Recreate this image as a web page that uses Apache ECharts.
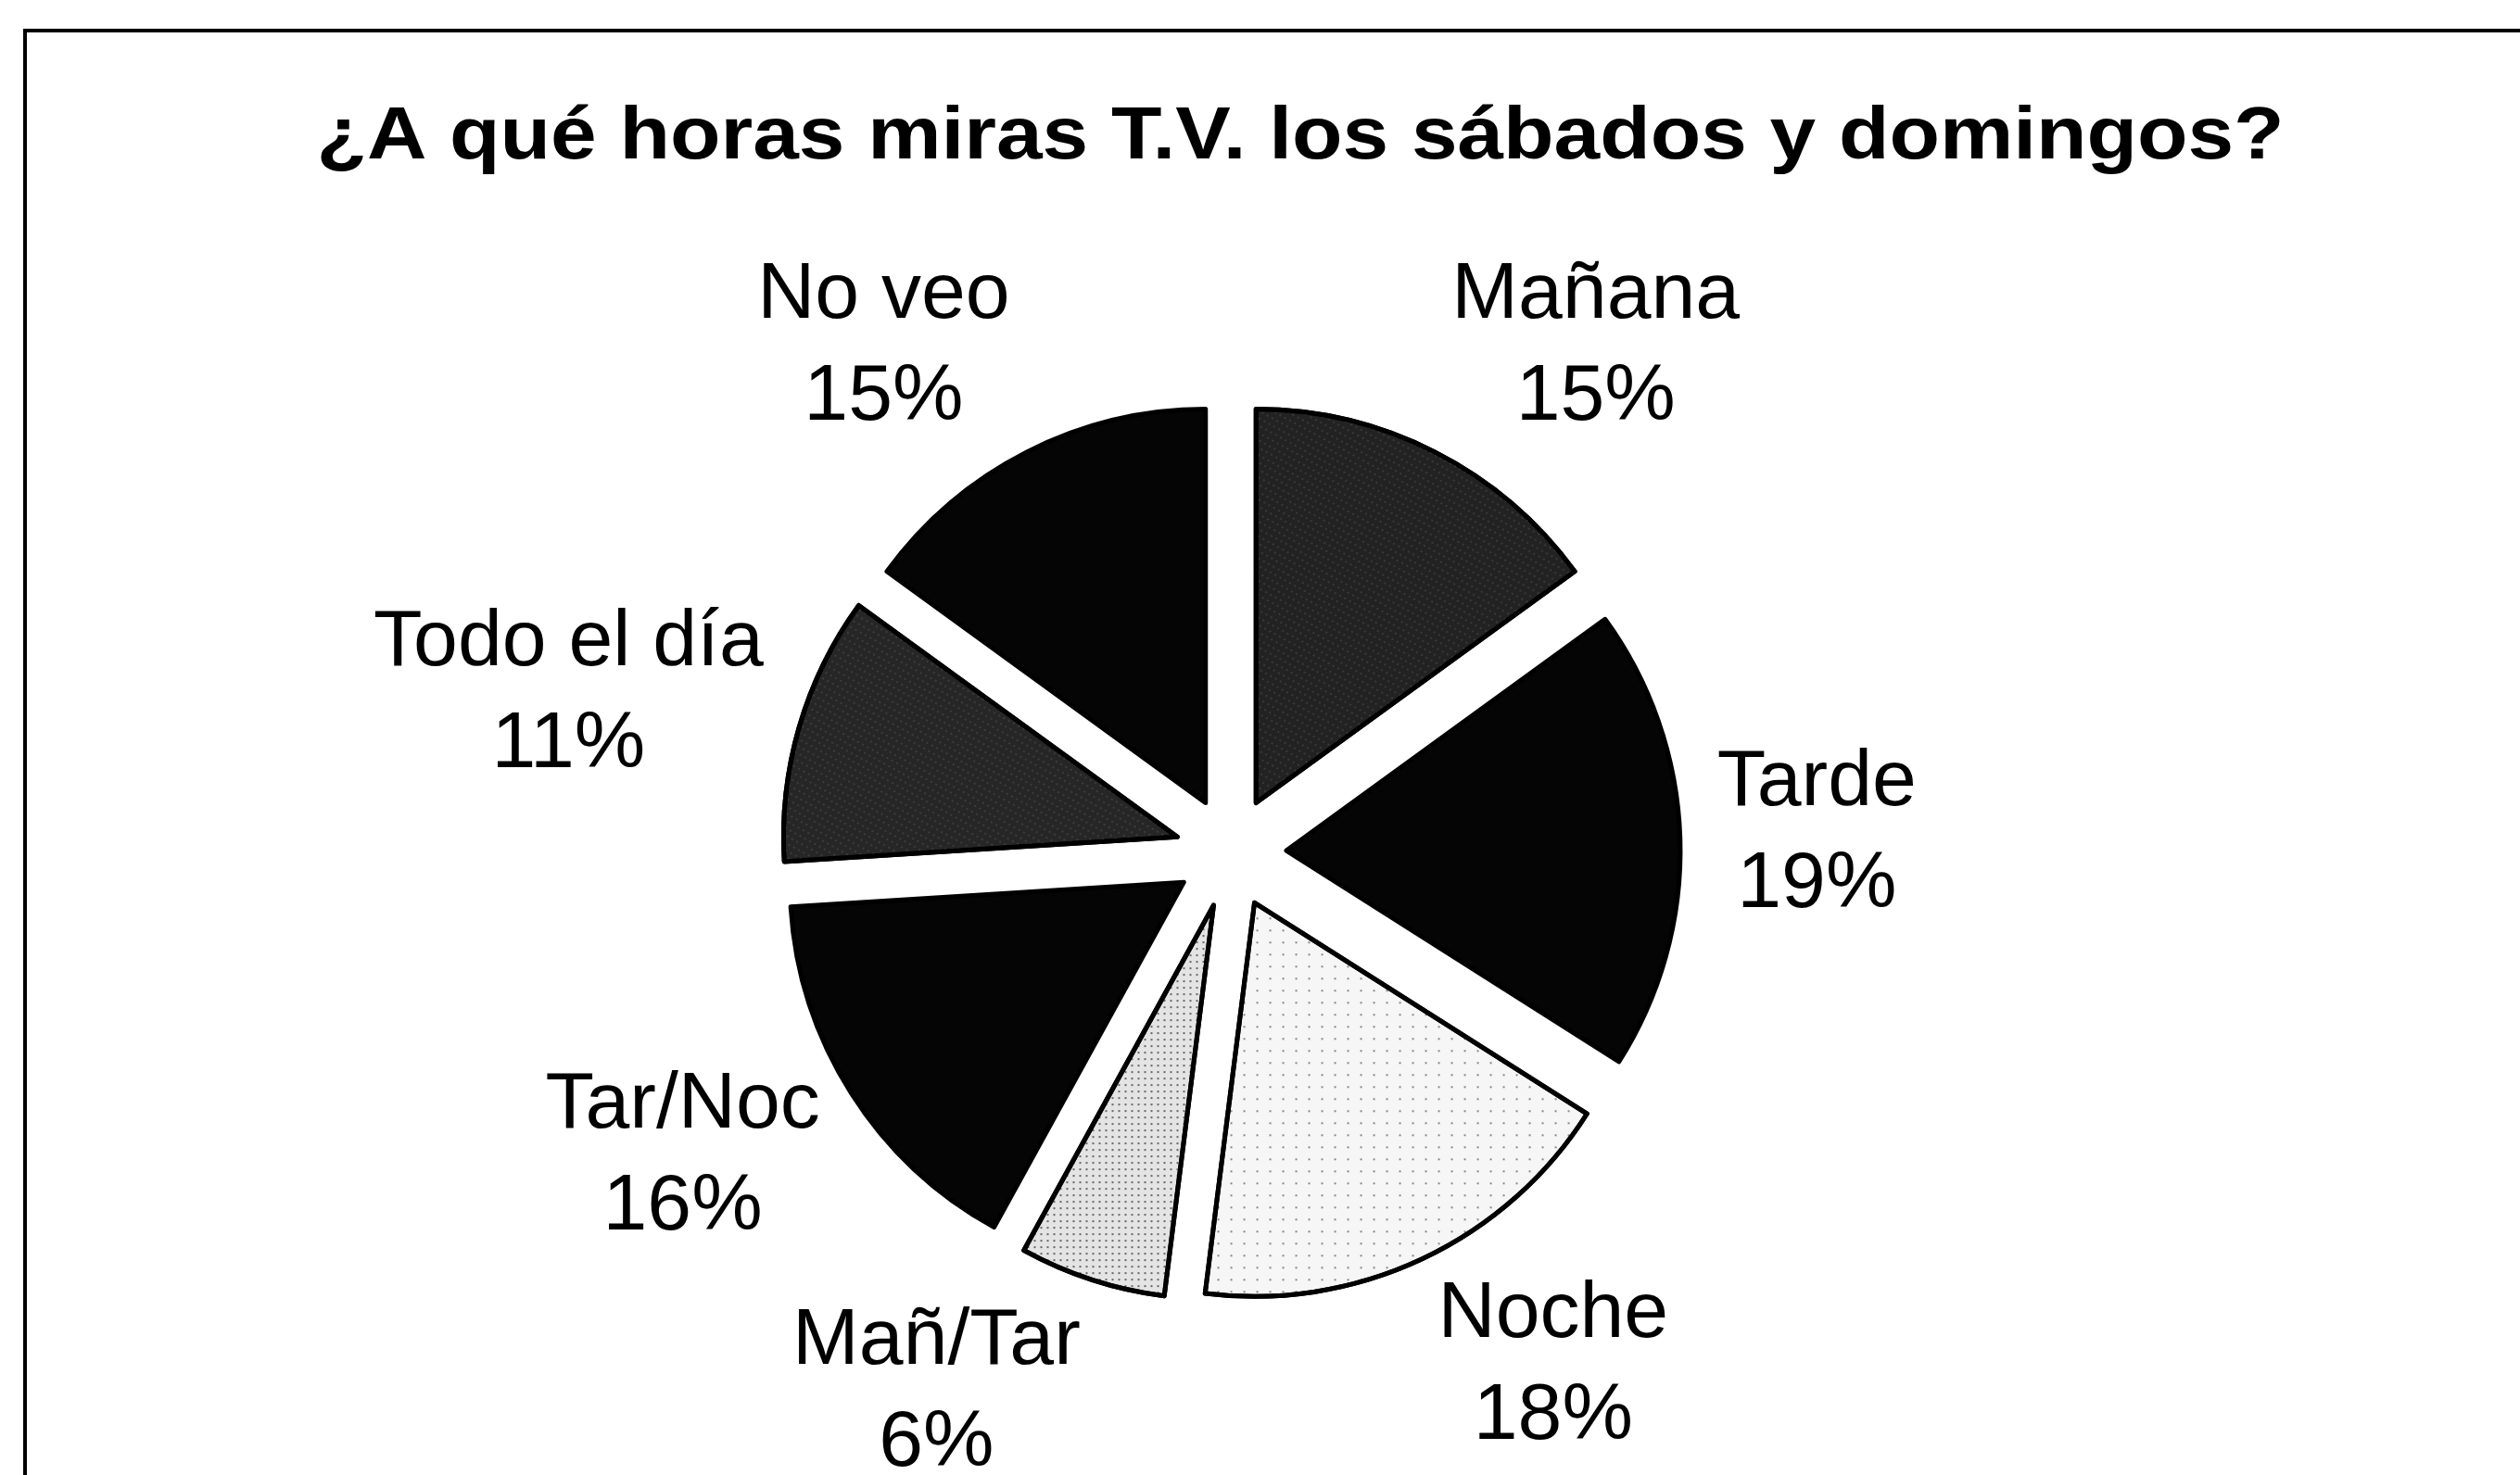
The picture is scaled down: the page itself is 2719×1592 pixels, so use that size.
<!DOCTYPE html>
<html>
<head>
<meta charset="utf-8">
<title>¿A qué horas miras T.V. los sábados y domingos?</title>
<script src="https://cdn.jsdelivr.net/npm/echarts@6/dist/echarts.min.js"></script>
<style>
  html, body { margin: 0; padding: 0; background: #fff; }
  #chart { width: 2719px; height: 1592px; }
</style>
</head>
<body>
<div id="chart"></div>
<script>
// datos del gráfico
const titleText = '¿A qué horas miras T.V. los sábados y domingos?';
const categories = ['Mañana', 'Tarde', 'Noche', 'Mañ/Tar', 'Tar/Noc', 'Todo el día', 'No veo'];
const values = [15, 19, 18, 6, 16, 11, 15];

// tramas de cada porción (escaneo en blanco y negro)
const sliceStyles = [
    { color: '#222222', decal: { symbol: 'rect', symbolSize: 0.6, color: 'rgba(255,255,255,0.35)', dashArrayX: [2, 4], dashArrayY: [2, 5], rotation: 0.5 } },
    { color: '#050505' },
    { color: '#f6f6f6', decal: { symbol: 'rect', symbolSize: 1, color: 'rgba(0,0,0,0.45)', dashArrayX: [2, 12], dashArrayY: [2, 11] } },
    { color: '#e4e4e4', decal: { symbol: 'rect', symbolSize: 1, color: 'rgba(0,0,0,0.55)', dashArrayX: [2, 5], dashArrayY: [2, 5] } },
    { color: '#050505' },
    { color: '#262626', decal: { symbol: 'rect', symbolSize: 0.6, color: 'rgba(255,255,255,0.35)', dashArrayX: [2, 4], dashArrayY: [2, 5], rotation: 0.5 } },
    { color: '#050505' }
];

const CX = 1328, CY = 920, R = 425, OFFSET = 60, GAP = 40;
const FONT = '"Liberation Sans", Arial, sans-serif';

const chart = echarts.init(document.getElementById('chart'), null, { renderer: 'canvas' });

const total = values.reduce((a, b) => a + b, 0);

// etiqueta centrada fuera de la porción (como Excel): se calcula desde el ángulo medio del dato
function placeLabel(p) {
    const i = p.dataIndex;
    let before = 0;
    for (let k = 0; k < i; k++) before += values[k];
    const th = (before + values[i] / 2) / total * 2 * Math.PI;
    const ux = Math.sin(th), uy = -Math.cos(th);
    const dist = R + OFFSET + GAP;
    return {
        x: CX + dist * ux + Math.sign(ux) * p.labelRect.width / 2,
        y: CY + dist * uy + uy * p.labelRect.height * 0.4,
        align: 'center',
        verticalAlign: 'middle'
    };
}

const option = {
    backgroundColor: '#fff',
    animation: false,
    graphic: [
        {
            type: 'rect',
            shape: { x: 27, y: 33, width: 2800, height: 1700 },
            style: { fill: 'none', stroke: '#000', lineWidth: 4 },
            silent: true
        },
        {
            type: 'text',
            x: 1403,
            y: 149,
            scaleX: 1.115,
            style: {
                text: titleText,
                align: 'center',
                verticalAlign: 'middle',
                font: 'bold 80px ' + FONT,
                fill: '#000'
            },
            silent: true
        }
    ],
    series: [
        {
            // porciones separadas
            type: 'pie',
            center: [CX, CY],
            radius: R,
            startAngle: 90,
            clockwise: true,
            selectedMode: 'multiple',
            selectedOffset: OFFSET,
            emphasis: { disabled: true },
            itemStyle: { borderColor: '#000', borderWidth: 5 },
            select: { itemStyle: { borderColor: '#000', borderWidth: 5 } },
            label: { show: false },
            labelLine: { show: false },
            data: categories.map((name, i) => ({
                name: name,
                value: values[i],
                selected: true,
                itemStyle: sliceStyles[i]
            }))
        },
        {
            // capa de etiquetas (transparente)
            type: 'pie',
            center: [CX, CY],
            radius: R,
            startAngle: 90,
            clockwise: true,
            silent: true,
            z: 5,
            avoidLabelOverlap: false,
            emphasis: { disabled: true },
            itemStyle: { color: 'rgba(0,0,0,0)', borderWidth: 0 },
            label: {
                show: true,
                position: 'outside',
                formatter: '{b}\n{c}%',
                fontFamily: FONT,
                fontSize: 86,
                lineHeight: 110,
                color: '#000'
            },
            labelLine: { show: false },
            labelLayout: placeLabel,
            data: categories.map((name, i) => ({ name: name, value: values[i] }))
        }
    ]
};

chart.setOption(option);
window.addEventListener('resize', () => chart.resize());
</script>
</body>
</html>
